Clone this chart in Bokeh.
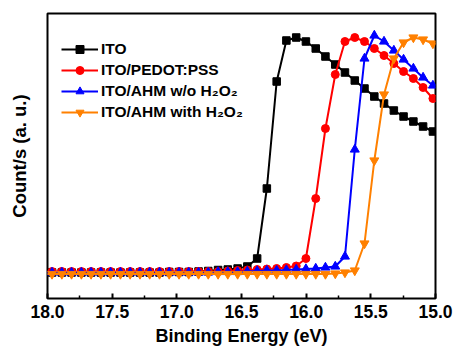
from bokeh.plotting import figure
from bokeh.models import Range1d, FixedTicker, NumeralTickFormatter, Legend
from bokeh.embed import file_html
from bokeh.resources import INLINE

energy = [15.020, 15.096, 15.171, 15.247, 15.322, 15.398, 15.473, 15.549, 15.624, 15.700,
          15.775, 15.851, 15.926, 16.002, 16.077, 16.153, 16.228, 16.304, 16.379, 16.455,
          16.530, 16.606, 16.681, 16.757, 16.832, 16.908, 16.983, 17.059, 17.134, 17.210,
          17.285, 17.361, 17.436, 17.512, 17.587, 17.663, 17.738, 17.814, 17.889, 17.965,
          18.040]

ito = [167, 172, 177, 182, 188, 195, 202, 210, 218, 226,
       234, 242, 250, 257, 261, 258, 217, 110, 40, 32,
       30, 29, 28.5, 27.5, 27, 26.5, 26.5, 26.5, 26, 26,
       26, 26, 26, 26, 26, 26, 26, 26, 26, 26, 26]

pedot = [200, 211, 220, 227, 235, 243, 250, 257, 261, 257,
         224, 170, 100, 40, 32.5, 31, 30, 29.5, 29, 28.5,
         28, 27.5, 27, 27, 27, 27, 27, 27, 27, 27,
         27, 27, 27, 27, 27, 27, 27, 27, 27, 27, 27]

ahm_wo = [213, 221, 230, 239, 248, 257, 263, 240, 149, 42,
          32, 31, 30, 29.5, 29, 28.5, 28, 28, 27.5, 27,
          26.5, 26.5, 26.5, 26, 26, 26, 26, 26, 26, 26,
          26, 26, 26, 26, 26, 26, 26, 26, 26, 26, 26]

ahm_with = [255, 259, 261, 256, 240, 204, 138, 55, 28, 26,
            25, 24.5, 24.5, 24.5, 24.5, 24.5, 24.5, 24.5, 24.5, 24.5,
            24.5, 24.5, 24.5, 24.5, 24.5, 24.5, 24.5, 24.5, 24.5, 24.5,
            24.5, 24.5, 24.5, 24.5, 24.5, 24.5, 24.5, 24.5, 24.5, 24.5, 24.5]

labels = ["ITO", "ITO/PEDOT:PSS", "ITO/AHM w/o H\u2082O\u2082", "ITO/AHM with H\u2082O\u2082"]
colors = ["#000000", "#ff0000", "#0000ff", "#ff8000"]
markers = ["square", "circle", "triangle", "inverted_triangle"]
sizes = [7.5, 8, 9, 9]
x_ticks = [15.0, 15.5, 16.0, 16.5, 17.0, 17.5, 18.0]
x_minor = [15.25, 15.75, 16.25, 16.75, 17.25, 17.75]

FONT = "Liberation Sans"

p = figure(width=454, height=349, output_backend="svg", toolbar_location=None,
           x_range=Range1d(18.0, 15.0), y_range=Range1d(0, 285),
           min_border_left=47, min_border_right=19, min_border_top=13, min_border_bottom=51)

p.grid.visible = False
p.outline_line_color = "black"
p.outline_line_width = 2
p.background_fill_color = "white"
p.border_fill_color = "white"

xa = p.xaxis[0]
xa.ticker = FixedTicker(ticks=x_ticks, minor_ticks=x_minor)
xa.formatter = NumeralTickFormatter(format="0.0")
xa.axis_line_color = None
xa.major_tick_in = 5
xa.major_tick_out = 0
xa.minor_tick_in = 3
xa.minor_tick_out = 0
xa.major_tick_line_width = 2
xa.minor_tick_line_width = 1.5
xa.major_label_text_font = FONT
xa.major_label_text_font_style = "bold"
xa.major_label_text_font_size = "17.5px"
xa.major_label_text_color = "black"
xa.major_label_standoff = 6
xa.axis_label = "Binding Energy (eV)"
xa.axis_label_text_font = FONT
xa.axis_label_text_font_style = "bold"
xa.axis_label_text_font_size = "18px"
xa.axis_label_text_color = "black"
xa.axis_label_standoff = 5

ya = p.yaxis[0]
ya.ticker = FixedTicker(ticks=[])
ya.axis_line_color = None
ya.major_tick_line_color = None
ya.minor_tick_line_color = None
ya.major_label_text_font_size = "0px"
ya.major_label_standoff = 0
ya.axis_label = "Count/s (a. u.)"
ya.axis_label_text_font = FONT
ya.axis_label_text_font_style = "bold"
ya.axis_label_text_font_size = "18.5px"
ya.axis_label_text_color = "black"
ya.axis_label_standoff = 18

series = [ito, pedot, ahm_wo, ahm_with]
items = []
for ys, lab, col, mk, sz in zip(series, labels, colors, markers, sizes):
    l = p.line(energy, ys, line_color=col, line_width=2)
    s = p.scatter(energy, ys, marker=mk, size=sz, fill_color=col, line_color=col)
    items.append((lab, [l, s]))

legend = Legend(items=items, location=(14, 176))
legend.label_text_font = FONT
legend.label_text_font_style = "bold"
legend.label_text_font_size = "15.5px"
legend.label_text_color = "black"
legend.label_height = 20
legend.glyph_height = 20
legend.glyph_width = 37
legend.label_standoff = 3
legend.spacing = 1
legend.padding = 0
legend.margin = 0
legend.border_line_color = None
legend.background_fill_alpha = 0
p.add_layout(legend, "center")

open("out.html", "w").write(file_html(p, INLINE))
